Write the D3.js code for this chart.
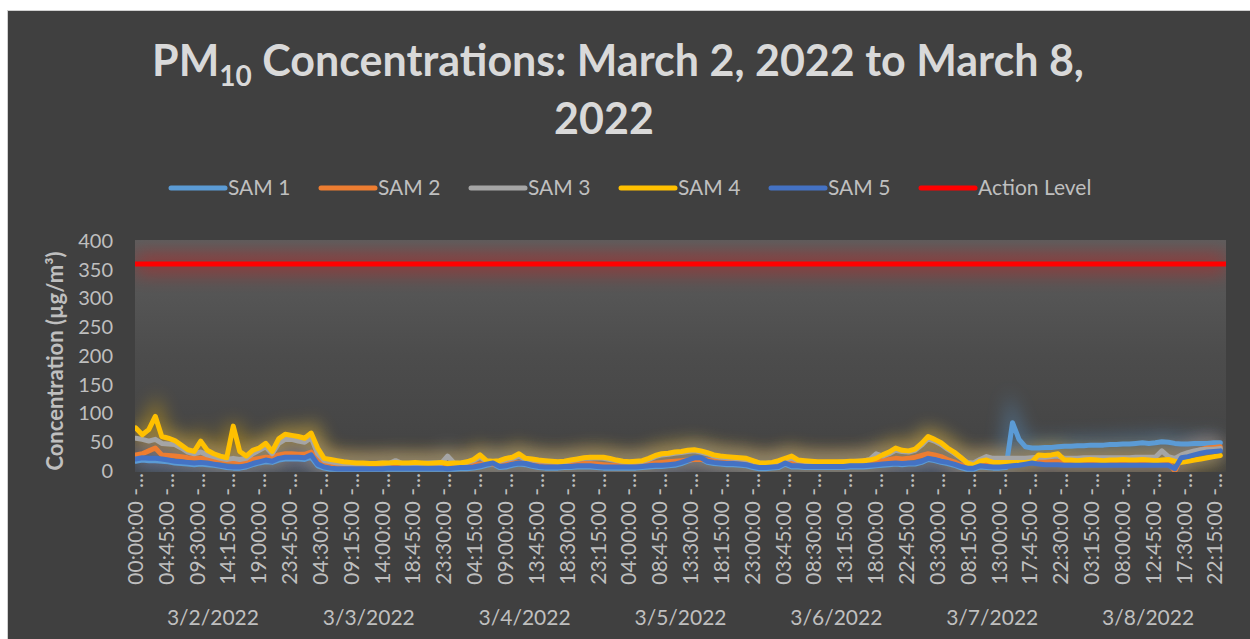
<!DOCTYPE html>
<html>
<head>
<meta charset="utf-8">
<script src="https://cdn.jsdelivr.net/npm/d3@7"></script>
<style>
  body { margin: 0; background: #fff; }
  text { font-family: Lato, "Open Sans", sans-serif; }
</style>
</head>
<body>
<div id="chart"></div>
<script>
// dates on the outer axis level, one value per hour in the series below
var days = ["3/2/2022", "3/3/2022", "3/4/2022", "3/5/2022", "3/6/2022", "3/7/2022", "3/8/2022"];
var yTicks = [0, 50, 100, 150, 200, 250, 300, 350, 400];
var actionLevel = 360;
var seriesNames = ["SAM 1", "SAM 2", "SAM 3", "SAM 4", "SAM 5"];
var seriesColors = ["#5b9bd5", "#ed7d31", "#a5a5a5", "#ffc000", "#4472c4"];

// hourly readings (ug/m3), 3/2 00:00 .. 3/8 23:00
var sam1 = [
  17,19,18,18,17,16,14,13,12,11,12,11,10,8,6,5,5,7,11,14,16,15,19,21,
  21,21,20,24,9,5,3,3,3,3,3,3,3,3,3,3,3,3,3,3,3,3,3,3,
  3,3,4,4,5,7,10,12,6,7,10,12,11,8,6,5,5,5,6,6,7,7,7,6,
  5,5,5,5,5,5,6,7,8,8,9,10,13,17,21,21,15,13,12,11,11,10,9,6,
  4,4,5,6,12,7,7,6,6,6,6,6,6,6,7,7,7,8,9,10,11,12,11,12,
  12,15,20,18,15,13,10,6,3,3,7,6,5,5,6,84,55,42,40,40,41,41,42,43,
  43,44,44,45,45,45,46,46,47,47,48,49,48,49,51,50,48,47,47,48,48,48,49,49
];
var sam2 = [
  28,30,35,40,28,27,26,25,23,22,22,21,20,19,18,17,16,17,20,22,24,23,28,30,
  30,29,29,33,20,13,11,10,10,9,9,9,9,9,9,9,9,9,9,9,9,9,9,9,
  9,9,9,10,11,12,14,12,11,12,14,15,14,12,11,11,11,11,11,12,12,13,13,12,
  11,10,10,10,10,10,11,12,14,15,16,17,18,19,20,20,19,18,17,16,15,15,14,13,
  12,12,12,13,18,14,13,13,13,13,13,13,13,13,13,14,14,14,16,18,20,22,21,22,
  24,27,30,28,25,20,16,11,8,8,13,13,12,12,12,13,14,15,16,17,16,16,16,15,
  15,15,15,15,15,15,16,16,16,16,16,16,16,16,16,15,0,23,28,33,37,40,41,42
];
var sam3 = [
  57,55,52,55,48,47,46,40,33,30,33,28,25,22,20,22,20,22,30,36,42,30,48,55,
  55,52,50,58,30,18,16,14,13,12,12,12,12,13,14,13,18,13,12,13,13,14,14,13,
  26,14,13,15,18,24,17,16,17,20,22,26,20,19,18,17,16,15,16,18,20,22,22,23,
  22,20,18,16,15,16,17,20,25,28,29,31,32,34,35,33,30,26,24,23,22,21,20,17,
  14,13,14,17,20,22,18,17,16,15,15,15,15,16,16,17,17,20,30,26,30,36,34,33,
  36,45,56,52,46,38,31,23,15,14,20,25,22,22,22,22,22,22,23,24,24,25,26,22,
  22,22,23,23,23,23,23,23,23,23,24,24,24,24,35,25,22,28,32,35,37,38,38,39
];
var sam4 = [
  75,63,72,95,60,57,53,45,37,34,52,36,30,26,23,78,34,26,36,40,48,34,56,64,
  62,60,57,66,40,22,20,18,16,15,14,14,13,13,14,14,15,14,14,15,14,13,14,15,
  13,14,14,16,20,28,18,17,18,22,24,30,22,21,19,18,17,16,17,19,21,23,24,24,
  24,22,19,17,16,17,18,22,27,30,31,33,34,36,37,35,32,28,26,25,24,23,22,18,
  14,14,15,18,22,26,19,18,17,16,16,16,16,16,17,17,18,19,22,28,33,40,36,35,
  38,48,60,55,49,40,33,24,14,10,17,19,15,15,15,15,15,15,16,28,27,28,30,19,
  19,18,19,20,19,18,19,19,20,19,19,20,19,18,19,20,17,15,17,19,21,23,25,27
];
var sam5 = [
  21,23,22,22,21,19,17,16,15,14,15,14,12,10,8,7,7,9,13,16,19,17,22,24,
  24,24,23,28,12,7,5,4,4,4,4,4,4,4,4,5,5,5,5,5,5,5,5,5,
  4,5,6,6,7,9,12,14,8,9,12,14,13,10,8,7,7,7,8,8,9,9,9,8,
  7,7,7,7,7,7,8,9,10,10,11,12,15,19,23,23,17,15,14,13,13,12,11,8,
  6,6,7,8,14,9,9,8,8,8,8,8,8,8,9,9,9,10,11,12,13,14,13,14,
  14,17,22,20,17,15,12,8,5,5,9,8,7,7,8,9,10,12,14,12,11,11,11,10,
  10,10,10,10,10,10,10,10,10,10,10,10,10,10,10,10,4,23,25,28,31,33,34,35
];
var seriesValues = [sam1, sam2, sam3, sam4, sam5];

// 15 minute slots of each day
var slotTimes = d3.range(96).map(function(i) {
  var h = Math.floor(i / 4), m = (i % 4) * 15;
  return d3.format("02")(h) + ":" + d3.format("02")(m) + ":00";
});
var slots = d3.range(days.length * 96);

var width = 1250, height = 639;
var plotLeft = 135, plotRight = 1226, plotTop = 240, plotBottom = 472;

var svg = d3.select("#chart").append("svg").attr("width", width).attr("height", height);

svg.append("rect")
  .attr("x", 7.5).attr("y", 10.5).attr("width", width).attr("height", height)
  .attr("fill", "#404040").attr("stroke", "#d0d0d0");

var defs = svg.append("defs");
var grad = defs.append("linearGradient").attr("id", "plotbg")
  .attr("x1", 0).attr("y1", 0).attr("x2", 0).attr("y2", 1);
grad.append("stop").attr("offset", "0%").attr("stop-color", "#5d5d5d");
grad.append("stop").attr("offset", "50%").attr("stop-color", "#4c4c4c");
grad.append("stop").attr("offset", "100%").attr("stop-color", "#424242");

defs.append("filter").attr("id", "glow")
  .attr("filterUnits", "userSpaceOnUse")
  .attr("x", 0).attr("y", 0).attr("width", width).attr("height", height)
  .append("feGaussianBlur").attr("stdDeviation", 9);

defs.append("clipPath").attr("id", "plotclip")
  .append("rect").attr("x", plotLeft).attr("y", plotTop)
  .attr("width", plotRight - plotLeft).attr("height", plotBottom - plotTop);

var x = d3.scaleBand().domain(slots).range([plotLeft, plotRight]);
var y = d3.scaleLinear().domain([0, 400]).range([471, 241]);
var cx = function(s) { return x(s) + x.bandwidth() / 2; };

svg.append("rect")
  .attr("x", plotLeft).attr("y", plotTop)
  .attr("width", plotRight - plotLeft).attr("height", plotBottom - plotTop)
  .attr("fill", "url(#plotbg)");

var line = d3.line()
  .x(function(v, i) { return cx(i * 4); })
  .y(function(v) { return y(v); });

var plot = svg.append("g").attr("clip-path", "url(#plotclip)");

// glow under every line
seriesValues.forEach(function(vals, k) {
  plot.append("path")
    .attr("d", line(vals))
    .attr("fill", "none")
    .attr("stroke", seriesColors[k])
    .attr("stroke-width", 16)
    .attr("opacity", 0.38)
    .attr("filter", "url(#glow)");
});
plot.append("line")
  .attr("x1", plotLeft).attr("x2", plotRight)
  .attr("y1", y(actionLevel)).attr("y2", y(actionLevel))
  .attr("stroke", "#ff0000").attr("stroke-width", 22).attr("opacity", 0.3)
  .attr("filter", "url(#glow)");

seriesValues.forEach(function(vals, k) {
  plot.append("path")
    .attr("d", line(vals))
    .attr("fill", "none")
    .attr("stroke", seriesColors[k])
    .attr("stroke-width", 5)
    .attr("stroke-linejoin", "round")
    .attr("stroke-linecap", "round");
});

plot.append("line")
  .attr("x1", cx(0)).attr("x2", cx(slots.length - 1))
  .attr("y1", y(actionLevel)).attr("y2", y(actionLevel))
  .attr("stroke", "#ff0000").attr("stroke-width", 5).attr("stroke-linecap", "round");

// y axis
var yAxis = svg.append("g")
  .attr("transform", "translate(" + plotLeft + ",0)")
  .call(d3.axisLeft(y).tickValues(yTicks).tickSize(0).tickPadding(22));
yAxis.select(".domain").remove();
yAxis.selectAll("text")
  .attr("fill", "#bfbfbf").attr("font-size", "20px")
  .style("font-family", "Lato, sans-serif");

svg.append("text")
  .attr("transform", "translate(63,361) rotate(-90)")
  .attr("text-anchor", "middle")
  .attr("fill", "#bfbfbf").attr("font-size", "22px").attr("font-weight", "bold")
  .text("Concentration (µg/m³)");

// x axis, inner level (time), every 19th slot
var tickSlots = slots.filter(function(s) { return s % 19 === 0; });
svg.append("g").selectAll("text")
  .data(tickSlots)
  .enter()
  .append("text")
  .attr("transform", function(s) { return "translate(" + (cx(s) + 7) + ",473) rotate(-90)"; })
  .attr("text-anchor", "end")
  .attr("fill", "#bfbfbf")
  .attr("font-size", "21px")
  .text(function(s) { return slotTimes[s % 96] + " -..."; });

// x axis, outer level (date)
svg.append("g").selectAll("text")
  .data(days)
  .enter()
  .append("text")
  .attr("x", function(d, i) { return (x(i * 96) + x(i * 96 + 95) + x.bandwidth()) / 2; })
  .attr("y", 625)
  .attr("text-anchor", "middle")
  .attr("fill", "#bfbfbf")
  .attr("font-size", "21px")
  .text(function(d) { return d; });

// legend
var legendItems = seriesNames.map(function(n, i) { return { name: n, color: seriesColors[i] }; })
  .concat([{ name: "Action Level", color: "#ff0000" }]);
var legend = svg.append("g").selectAll("g")
  .data(legendItems)
  .enter()
  .append("g")
  .attr("transform", function(d, i) { return "translate(" + (171 + i * 150) + ",188)"; });
legend.append("line")
  .attr("x1", 0).attr("x2", 54)
  .attr("stroke", function(d) { return d.color; })
  .attr("stroke-width", 5).attr("stroke-linecap", "round");
legend.append("text")
  .attr("x", 57).attr("y", 7)
  .attr("fill", "#bfbfbf").attr("font-size", "21px")
  .text(function(d) { return d.name; });

// title
var title = svg.append("text")
  .attr("x", 618).attr("y", 76)
  .attr("text-anchor", "middle")
  .attr("fill", "#d9d9d9").attr("font-size", "43px").attr("font-weight", "bold");
title.append("tspan").text("PM");
title.append("tspan").attr("font-size", "28px").attr("dy", 10).text("10");
title.append("tspan").attr("dy", -10).text(" Concentrations: March 2, 2022 to March 8,");
svg.append("text")
  .attr("x", 604).attr("y", 134)
  .attr("text-anchor", "middle")
  .attr("fill", "#d9d9d9").attr("font-size", "43px").attr("font-weight", "bold")
  .text("2022");
</script>
</body>
</html>
